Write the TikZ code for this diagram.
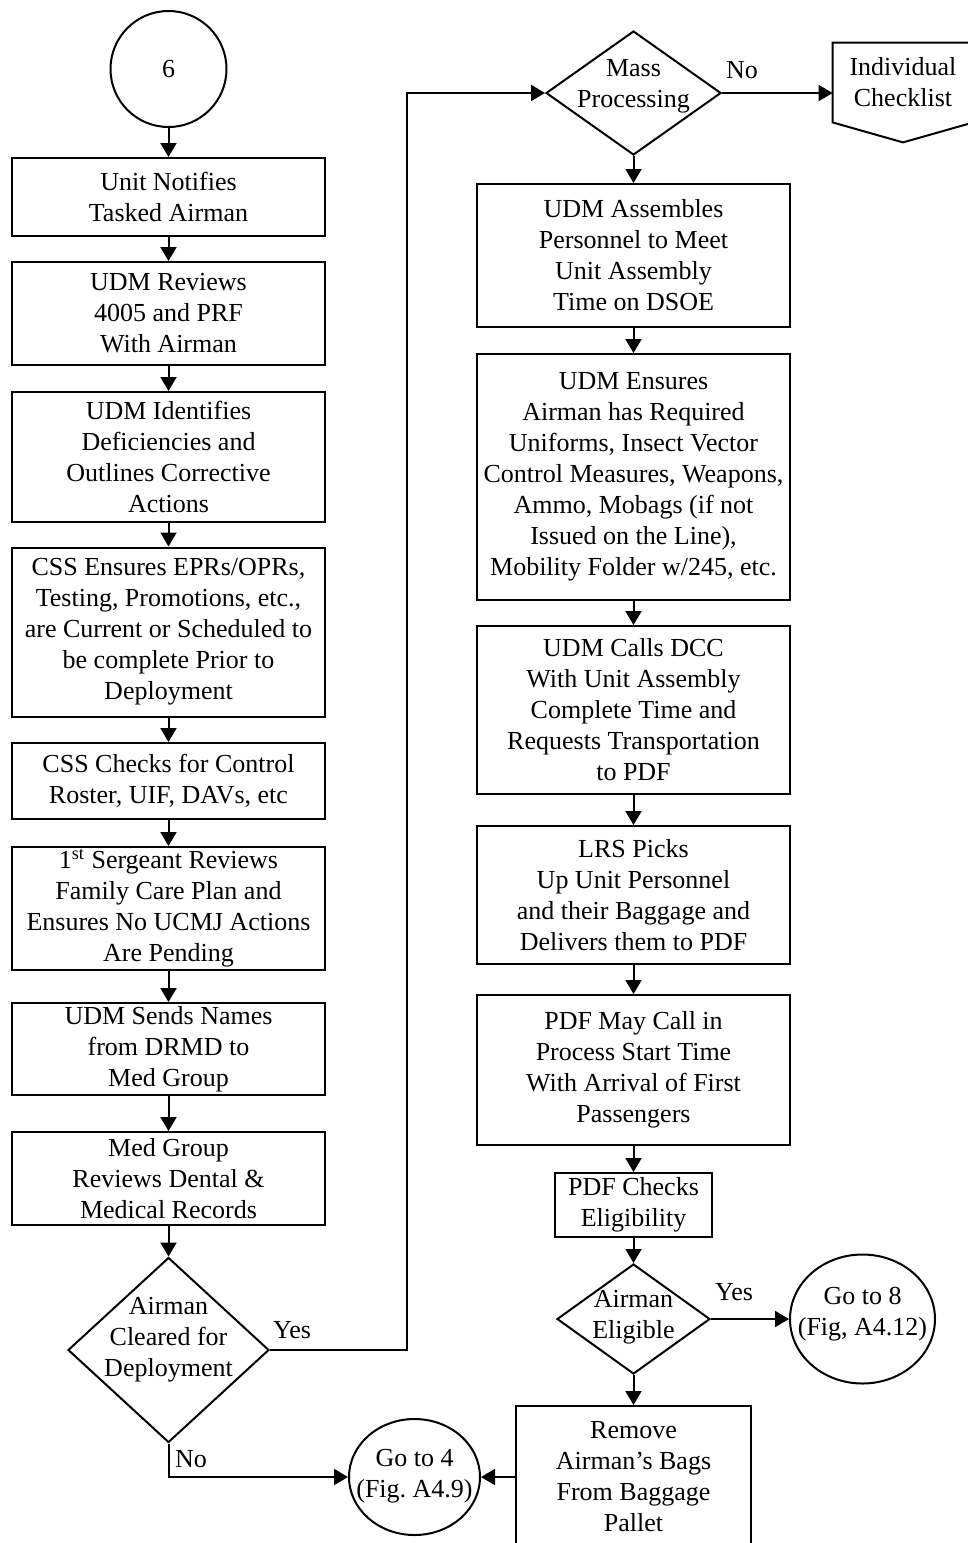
\documentclass[tikz,border=0pt]{standalone}
\usepackage{fontspec}
\setmainfont{Liberation Serif}
\usetikzlibrary{shapes.geometric,arrows.meta}
\frenchspacing
\begin{document}
\begin{tikzpicture}[x=0.5pt,y=-0.5pt,
  txt/.style={font=\fontsize{13}{15.5}\selectfont, align=center, inner sep=0pt},
  stepbox/.style={draw, line width=1pt, txt, minimum width=156.5pt},
  decision/.style={draw, diamond, line width=1pt, inner sep=0pt},
  oval/.style={draw, ellipse, line width=1pt, inner sep=0pt},
  arr/.style={line width=1pt, -{Triangle[length=7pt,width=8pt]}},
  lbl/.style={txt}]
\useasboundingbox (0,0) rectangle (968,1543);
\clip (0,0) rectangle (968,1543);

% ---------- left column ----------
\node[oval, txt, minimum width=58pt, minimum height=58pt] (c6) at (168.5,69) {6};
\node[stepbox, minimum height=39pt]   (b1) at (168.5,197)   {Unit Notifies\\Tasked Airman};
\node[stepbox, minimum height=51.5pt] (b2) at (168.5,313.5) {UDM Reviews\\4005 and PRF\\With Airman};
\node[stepbox, minimum height=65pt]   (b3) at (168.5,457)   {UDM Identifies\\Deficiencies and\\Outlines Corrective\\Actions};
\node[stepbox, minimum height=84.5pt] (b4) at (168.5,632)   {CSS Ensures EPRs/OPRs,\\Testing, Promotions, etc.,\\are Current or Scheduled to\\be complete Prior to\\Deployment};
\node[stepbox, minimum height=38pt]   (b5) at (168.5,781)   {CSS Checks for Control\\Roster, UIF, DAVs, etc};
\node[stepbox, minimum height=61.5pt] (b6) at (168.5,908.5) {1\textsuperscript{st} Sergeant Reviews\\Family Care Plan and\\Ensures No UCMJ Actions\\Are Pending};
\node[stepbox, minimum height=46pt]   (b7) at (168.5,1049)  {UDM Sends Names\\from DRMD to\\Med Group};
\node[stepbox, minimum height=46.5pt] (b8) at (168.5,1178.5){Med Group\\Reviews Dental \&\\Medical Records};
\node[decision, minimum width=100.5pt, minimum height=92.5pt] (d1) at (168.5,1350) {};
\node[lbl] (d1t) at (168.5,1340) {Airman\\Cleared for\\Deployment};

% ---------- right column ----------
\node[decision, minimum width=87.5pt, minimum height=62pt] (d0) at (633.5,93) {};
\node[lbl] (d0t) at (633.5,86) {Mass\\Processing};
\node[txt, minimum width=70pt, minimum height=39.5pt] (ic) at (903,82.5) {Individual\\Checklist};
\draw[line width=1pt] (ic.north west) -- (ic.north east) -- (ic.south east)
  -- ([yshift=-10pt]ic.south) -- (ic.south west) -- cycle;

\node[stepbox, minimum height=71.5pt] (r1) at (633.5,255.5) {UDM Assembles\\Personnel to Meet\\Unit Assembly\\Time on DSOE};
\node[stepbox, minimum height=123pt]  (r2) at (633.5,477)   {UDM Ensures\\Airman has Required\\Uniforms, Insect Vector\\Control Measures, Weapons,\\Ammo, Mobags (if not\\Issued on the Line),\\Mobility Folder w/245, etc.};
\node[stepbox, minimum height=84pt]   (r3) at (633.5,710)   {UDM Calls DCC\\With Unit Assembly\\Complete Time and\\Requests Transportation\\to PDF};
\node[stepbox, minimum height=69pt]   (r4) at (633.5,895)   {LRS Picks\\Up Unit Personnel\\and their Baggage and\\Delivers them to PDF};
\node[stepbox, minimum height=75pt]   (r5) at (633.5,1070)  {PDF May Call in\\Process Start Time\\With Arrival of First\\Passengers};
\node[stepbox, minimum width=78.5pt, minimum height=32pt] (r6) at (633.5,1205) {PDF Checks\\Eligibility};
\node[decision, minimum width=76.5pt, minimum height=55pt] (d2) at (633.5,1319) {};
\node[lbl] (d2t) at (633.5,1317) {Airman\\Eligible};
\node[stepbox, minimum width=117.5pt, minimum height=71pt] (rm) at (633.5,1477) {Remove\\Airman's Bags\\From Baggage\\Pallet};

\node[oval, minimum width=72.5pt, minimum height=64.5pt] (g8) at (862.5,1319) {};
\node[lbl] (g8t) at (862.5,1314) {Go to 8\\(Fig, A4.12)};
\node[oval, minimum width=65.5pt, minimum height=58pt] (g4) at (414.5,1477) {};
\node[lbl] (g4t) at (414.5,1476) {Go to 4\\(Fig. A4.9)};

% ---------- connectors ----------
\draw[arr] (c6) -- (b1);
\draw[arr] (b1) -- (b2);
\draw[arr] (b2) -- (b3);
\draw[arr] (b3) -- (b4);
\draw[arr] (b4) -- (b5);
\draw[arr] (b5) -- (b6);
\draw[arr] (b6) -- (b7);
\draw[arr] (b7) -- (b8);
\draw[arr] (b8) -- (d1);

\coordinate (yesup) at (407,93);
\draw[arr] (d1.east) -| (yesup) -- (d0.west);
\draw[arr] (d1.south) |- (g4.west);

\draw[arr] (d0.east) -- (d0.east -| ic.west);
\draw[arr] (d0.south) -- (r1.north);
\draw[arr] (r1) -- (r2);
\draw[arr] (r2) -- (r3);
\draw[arr] (r3) -- (r4);
\draw[arr] (r4) -- (r5);
\draw[arr] (r5) -- (r6);
\draw[arr] (r6) -- (d2);
\draw[arr] (d2.south) -- (rm.north);
\draw[arr] (d2.east) -- (g8.west);
\draw[arr] (rm.west) -- (g4.east);

% ---------- branch labels ----------
\node[lbl] (yes1) at (292,1330) {Yes};
\node[lbl] (no1)  at (191,1459) {No};
\node[lbl] (no0)  at (742,70)   {No};
\node[lbl] (yes2) at (734,1292) {Yes};
\end{tikzpicture}
\end{document}
